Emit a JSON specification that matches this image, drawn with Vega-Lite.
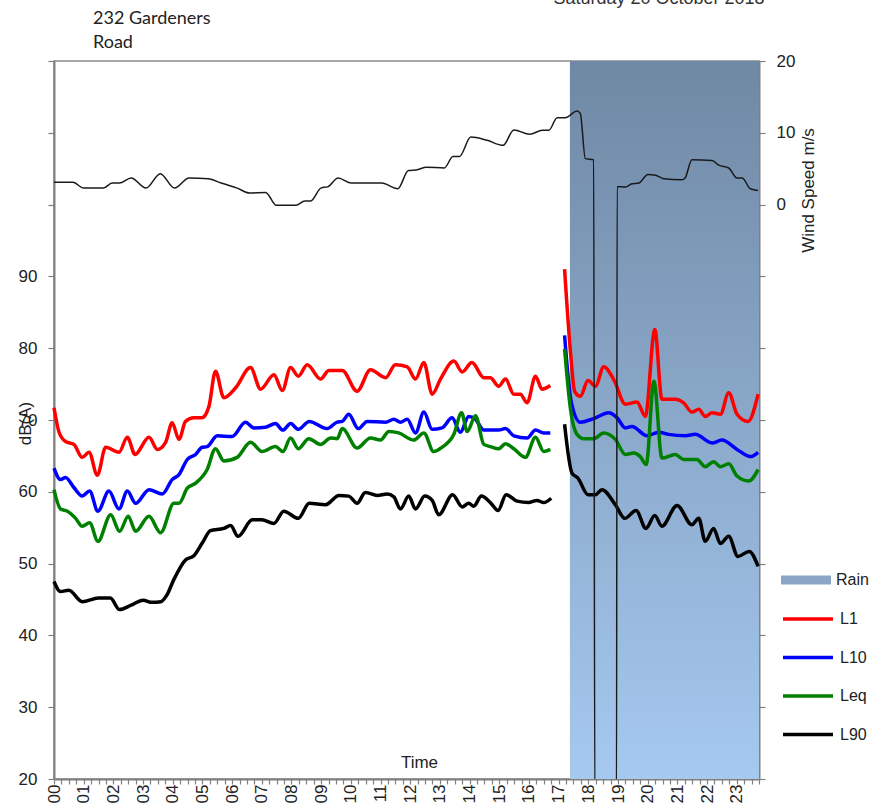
{
  "$schema": "https://vega.github.io/schema/vega-lite/v6.json",
  "width": 705,
  "height": 718,
  "autosize": "none",
  "padding": {"left": 54, "top": 61, "right": 113, "bottom": 30},
  "background": "white",
  "config": {
    "view": {"stroke": "#8a8a8a", "strokeWidth": 1.5},
    "axis": {
      "grid": false,
      "domainColor": "#808080",
      "domainWidth": 2,
      "tickColor": "#808080",
      "tickWidth": 1.2,
      "labelFont": "Liberation Sans",
      "labelFontSize": 17,
      "labelColor": "#222222",
      "titleFont": "Liberation Sans",
      "titleFontSize": 17,
      "titleFontWeight": "normal",
      "titleColor": "#222222",
      "labelOverlap": false,
      "labelFlush": false,
      "labelBound": false
    },
    "legend": {
      "labelFont": "Liberation Sans",
      "labelFontSize": 16,
      "labelColor": "#222222",
      "padding": 0,
      "offset": 0
    }
  },
  "datasets": {
    "rain": [{"t": 17.38, "t2": 23.75}],
    "note": [{"label": "Saturday 20 October 2018"}],
    "place": [{"label": "232 Gardeners\nRoad"}],
    "lev": [
      {"s":"L1","r":1,"t":0,"v":71.7},{"s":"L1","r":1,"t":0.17,"v":68.3},{"s":"L1","r":1,"t":0.39,"v":67.0},{"s":"L1","r":1,"t":0.67,"v":66.6},{"s":"L1","r":1,"t":0.95,"v":64.8},{"s":"L1","r":1,"t":1.18,"v":65.5},{"s":"L1","r":1,"t":1.46,"v":62.3},{"s":"L1","r":1,"t":1.74,"v":66.2},{"s":"L1","r":1,"t":2.19,"v":65.5},{"s":"L1","r":1,"t":2.47,"v":67.6},{"s":"L1","r":1,"t":2.73,"v":65.2},{"s":"L1","r":1,"t":3.2,"v":67.6},{"s":"L1","r":1,"t":3.48,"v":65.9},{"s":"L1","r":1,"t":3.76,"v":66.9},{"s":"L1","r":1,"t":3.98,"v":69.6},{"s":"L1","r":1,"t":4.21,"v":67.3},{"s":"L1","r":1,"t":4.43,"v":69.8},{"s":"L1","r":1,"t":4.71,"v":70.3},{"s":"L1","r":1,"t":4.98,"v":70.3},{"s":"L1","r":1,"t":5.22,"v":71.9},{"s":"L1","r":1,"t":5.44,"v":76.8},{"s":"L1","r":1,"t":5.72,"v":73.1},{"s":"L1","r":1,"t":6.12,"v":74.5},{"s":"L1","r":1,"t":6.62,"v":77.3},{"s":"L1","r":1,"t":6.96,"v":74.3},{"s":"L1","r":1,"t":7.41,"v":76.3},{"s":"L1","r":1,"t":7.69,"v":74.1},{"s":"L1","r":1,"t":7.97,"v":77.3},{"s":"L1","r":1,"t":8.23,"v":76.1},{"s":"L1","r":1,"t":8.53,"v":77.7},{"s":"L1","r":1,"t":8.98,"v":75.7},{"s":"L1","r":1,"t":9.26,"v":76.9},{"s":"L1","r":1,"t":9.71,"v":76.9},{"s":"L1","r":1,"t":10.21,"v":74.0},{"s":"L1","r":1,"t":10.66,"v":77.0},{"s":"L1","r":1,"t":11.17,"v":75.9},{"s":"L1","r":1,"t":11.5,"v":77.7},{"s":"L1","r":1,"t":11.9,"v":77.4},{"s":"L1","r":1,"t":12.18,"v":75.7},{"s":"L1","r":1,"t":12.46,"v":78.0},{"s":"L1","r":1,"t":12.74,"v":73.6},{"s":"L1","r":1,"t":13.02,"v":75.7},{"s":"L1","r":1,"t":13.47,"v":78.2},{"s":"L1","r":1,"t":13.75,"v":76.7},{"s":"L1","r":1,"t":14.08,"v":78.0},{"s":"L1","r":1,"t":14.48,"v":75.9},{"s":"L1","r":1,"t":14.7,"v":75.9},{"s":"L1","r":1,"t":14.98,"v":74.7},{"s":"L1","r":1,"t":15.21,"v":75.7},{"s":"L1","r":1,"t":15.49,"v":73.6},{"s":"L1","r":1,"t":15.71,"v":73.6},{"s":"L1","r":1,"t":15.94,"v":72.4},{"s":"L1","r":1,"t":16.22,"v":76.1},{"s":"L1","r":1,"t":16.44,"v":74.3},{"s":"L1","r":1,"t":16.72,"v":74.8},
      {"s":"L1","r":2,"t":17.2,"v":91.0},{"s":"L1","r":2,"t":17.4,"v":79.4},{"s":"L1","r":2,"t":17.54,"v":74.0},{"s":"L1","r":2,"t":17.73,"v":73.3},{"s":"L1","r":2,"t":17.99,"v":75.5},{"s":"L1","r":2,"t":18.24,"v":74.7},{"s":"L1","r":2,"t":18.52,"v":77.4},{"s":"L1","r":2,"t":18.86,"v":75.6},{"s":"L1","r":2,"t":19.25,"v":72.2},{"s":"L1","r":2,"t":19.64,"v":72.5},{"s":"L1","r":2,"t":19.92,"v":70.5},{"s":"L1","r":2,"t":20.24,"v":82.6},{"s":"L1","r":2,"t":20.48,"v":72.9},{"s":"L1","r":2,"t":20.93,"v":72.9},{"s":"L1","r":2,"t":21.21,"v":72.4},{"s":"L1","r":2,"t":21.49,"v":71.1},{"s":"L1","r":2,"t":21.72,"v":71.5},{"s":"L1","r":2,"t":21.94,"v":70.5},{"s":"L1","r":2,"t":22.17,"v":71.0},{"s":"L1","r":2,"t":22.45,"v":70.8},{"s":"L1","r":2,"t":22.73,"v":73.8},{"s":"L1","r":2,"t":23.01,"v":70.8},{"s":"L1","r":2,"t":23.38,"v":69.8},{"s":"L1","r":2,"t":23.72,"v":73.6},
      {"s":"L10","r":1,"t":0,"v":63.3},{"s":"L10","r":1,"t":0.22,"v":61.7},{"s":"L10","r":1,"t":0.39,"v":62.0},{"s":"L10","r":1,"t":0.67,"v":60.6},{"s":"L10","r":1,"t":0.95,"v":59.4},{"s":"L10","r":1,"t":1.2,"v":60.1},{"s":"L10","r":1,"t":1.48,"v":57.3},{"s":"L10","r":1,"t":1.85,"v":60.1},{"s":"L10","r":1,"t":2.19,"v":57.6},{"s":"L10","r":1,"t":2.47,"v":60.1},{"s":"L10","r":1,"t":2.75,"v":58.4},{"s":"L10","r":1,"t":3.2,"v":60.3},{"s":"L10","r":1,"t":3.65,"v":59.7},{"s":"L10","r":1,"t":3.98,"v":61.7},{"s":"L10","r":1,"t":4.21,"v":62.4},{"s":"L10","r":1,"t":4.49,"v":64.5},{"s":"L10","r":1,"t":4.77,"v":65.2},{"s":"L10","r":1,"t":4.99,"v":66.2},{"s":"L10","r":1,"t":5.16,"v":66.3},{"s":"L10","r":1,"t":5.5,"v":67.8},{"s":"L10","r":1,"t":6.0,"v":67.7},{"s":"L10","r":1,"t":6.45,"v":69.7},{"s":"L10","r":1,"t":6.73,"v":68.9},{"s":"L10","r":1,"t":7.13,"v":69.0},{"s":"L10","r":1,"t":7.46,"v":69.5},{"s":"L10","r":1,"t":7.71,"v":68.6},{"s":"L10","r":1,"t":7.97,"v":69.5},{"s":"L10","r":1,"t":8.23,"v":68.7},{"s":"L10","r":1,"t":8.6,"v":69.8},{"s":"L10","r":1,"t":9.2,"v":68.8},{"s":"L10","r":1,"t":9.54,"v":69.7},{"s":"L10","r":1,"t":9.71,"v":69.8},{"s":"L10","r":1,"t":9.93,"v":70.8},{"s":"L10","r":1,"t":10.25,"v":68.8},{"s":"L10","r":1,"t":10.55,"v":69.8},{"s":"L10","r":1,"t":11.17,"v":69.7},{"s":"L10","r":1,"t":11.45,"v":70.1},{"s":"L10","r":1,"t":11.67,"v":69.7},{"s":"L10","r":1,"t":11.9,"v":70.1},{"s":"L10","r":1,"t":12.18,"v":68.2},{"s":"L10","r":1,"t":12.46,"v":71.1},{"s":"L10","r":1,"t":12.74,"v":68.7},{"s":"L10","r":1,"t":13.07,"v":68.9},{"s":"L10","r":1,"t":13.41,"v":70.3},{"s":"L10","r":1,"t":13.69,"v":68.3},{"s":"L10","r":1,"t":13.97,"v":70.5},{"s":"L10","r":1,"t":14.2,"v":70.1},{"s":"L10","r":1,"t":14.48,"v":68.6},{"s":"L10","r":1,"t":14.98,"v":68.6},{"s":"L10","r":1,"t":15.21,"v":68.8},{"s":"L10","r":1,"t":15.49,"v":67.8},{"s":"L10","r":1,"t":15.94,"v":67.5},{"s":"L10","r":1,"t":16.22,"v":68.6},{"s":"L10","r":1,"t":16.5,"v":68.2},{"s":"L10","r":1,"t":16.72,"v":68.2},
      {"s":"L10","r":2,"t":17.2,"v":81.8},{"s":"L10","r":2,"t":17.43,"v":72.4},{"s":"L10","r":2,"t":17.73,"v":69.7},{"s":"L10","r":2,"t":18.18,"v":70.2},{"s":"L10","r":2,"t":18.69,"v":71.0},{"s":"L10","r":2,"t":18.97,"v":70.3},{"s":"L10","r":2,"t":19.25,"v":68.9},{"s":"L10","r":2,"t":19.47,"v":69.1},{"s":"L10","r":2,"t":19.98,"v":67.8},{"s":"L10","r":2,"t":20.37,"v":68.3},{"s":"L10","r":2,"t":20.7,"v":68.0},{"s":"L10","r":2,"t":21.27,"v":67.8},{"s":"L10","r":2,"t":21.6,"v":68.0},{"s":"L10","r":2,"t":22.17,"v":66.8},{"s":"L10","r":2,"t":22.5,"v":67.2},{"s":"L10","r":2,"t":23.01,"v":65.9},{"s":"L10","r":2,"t":23.46,"v":64.9},{"s":"L10","r":2,"t":23.72,"v":65.5},
      {"s":"Leq","r":1,"t":0,"v":60.3},{"s":"Leq","r":1,"t":0.22,"v":57.6},{"s":"Leq","r":1,"t":0.45,"v":57.3},{"s":"Leq","r":1,"t":0.73,"v":56.3},{"s":"Leq","r":1,"t":0.95,"v":55.2},{"s":"Leq","r":1,"t":1.2,"v":55.7},{"s":"Leq","r":1,"t":1.48,"v":53.1},{"s":"Leq","r":1,"t":1.91,"v":56.8},{"s":"Leq","r":1,"t":2.21,"v":54.5},{"s":"Leq","r":1,"t":2.5,"v":56.6},{"s":"Leq","r":1,"t":2.75,"v":54.5},{"s":"Leq","r":1,"t":3.2,"v":56.6},{"s":"Leq","r":1,"t":3.59,"v":54.3},{"s":"Leq","r":1,"t":4.04,"v":58.4},{"s":"Leq","r":1,"t":4.21,"v":58.4},{"s":"Leq","r":1,"t":4.49,"v":60.5},{"s":"Leq","r":1,"t":4.77,"v":61.2},{"s":"Leq","r":1,"t":5.16,"v":63.1},{"s":"Leq","r":1,"t":5.44,"v":66.0},{"s":"Leq","r":1,"t":5.72,"v":64.3},{"s":"Leq","r":1,"t":6.17,"v":64.8},{"s":"Leq","r":1,"t":6.62,"v":66.9},{"s":"Leq","r":1,"t":7.01,"v":65.6},{"s":"Leq","r":1,"t":7.46,"v":66.3},{"s":"Leq","r":1,"t":7.71,"v":65.6},{"s":"Leq","r":1,"t":7.97,"v":67.5},{"s":"Leq","r":1,"t":8.23,"v":66.0},{"s":"Leq","r":1,"t":8.58,"v":67.4},{"s":"Leq","r":1,"t":8.98,"v":66.6},{"s":"Leq","r":1,"t":9.32,"v":67.5},{"s":"Leq","r":1,"t":9.54,"v":67.4},{"s":"Leq","r":1,"t":9.71,"v":68.8},{"s":"Leq","r":1,"t":10.21,"v":66.1},{"s":"Leq","r":1,"t":10.66,"v":67.5},{"s":"Leq","r":1,"t":11.0,"v":67.2},{"s":"Leq","r":1,"t":11.28,"v":68.4},{"s":"Leq","r":1,"t":11.61,"v":68.2},{"s":"Leq","r":1,"t":12.12,"v":67.2},{"s":"Leq","r":1,"t":12.46,"v":68.2},{"s":"Leq","r":1,"t":12.79,"v":65.6},{"s":"Leq","r":1,"t":13.07,"v":66.2},{"s":"Leq","r":1,"t":13.47,"v":68.0},{"s":"Leq","r":1,"t":13.73,"v":71.0},{"s":"Leq","r":1,"t":13.92,"v":68.4},{"s":"Leq","r":1,"t":14.2,"v":70.6},{"s":"Leq","r":1,"t":14.48,"v":66.6},{"s":"Leq","r":1,"t":14.7,"v":66.3},{"s":"Leq","r":1,"t":14.98,"v":66.0},{"s":"Leq","r":1,"t":15.21,"v":66.7},{"s":"Leq","r":1,"t":15.49,"v":66.0},{"s":"Leq","r":1,"t":15.88,"v":64.8},{"s":"Leq","r":1,"t":16.22,"v":67.6},{"s":"Leq","r":1,"t":16.5,"v":65.6},{"s":"Leq","r":1,"t":16.72,"v":65.9},
      {"s":"Leq","r":2,"t":17.2,"v":79.9},{"s":"Leq","r":2,"t":17.4,"v":71.5},{"s":"Leq","r":2,"t":17.62,"v":68.0},{"s":"Leq","r":2,"t":17.85,"v":67.4},{"s":"Leq","r":2,"t":18.18,"v":67.4},{"s":"Leq","r":2,"t":18.52,"v":68.2},{"s":"Leq","r":2,"t":18.91,"v":67.3},{"s":"Leq","r":2,"t":19.25,"v":65.2},{"s":"Leq","r":2,"t":19.53,"v":65.4},{"s":"Leq","r":2,"t":19.75,"v":64.9},{"s":"Leq","r":2,"t":19.95,"v":63.8},{"s":"Leq","r":2,"t":20.21,"v":75.4},{"s":"Leq","r":2,"t":20.48,"v":64.7},{"s":"Leq","r":2,"t":20.93,"v":65.2},{"s":"Leq","r":2,"t":21.21,"v":64.5},{"s":"Leq","r":2,"t":21.66,"v":64.5},{"s":"Leq","r":2,"t":21.94,"v":63.5},{"s":"Leq","r":2,"t":22.22,"v":64.2},{"s":"Leq","r":2,"t":22.45,"v":63.5},{"s":"Leq","r":2,"t":22.73,"v":63.9},{"s":"Leq","r":2,"t":23.01,"v":62.2},{"s":"Leq","r":2,"t":23.4,"v":61.5},{"s":"Leq","r":2,"t":23.72,"v":63.1},
      {"s":"L90","r":1,"t":0,"v":47.5},{"s":"L90","r":1,"t":0.22,"v":46.1},{"s":"L90","r":1,"t":0.5,"v":46.3},{"s":"L90","r":1,"t":0.95,"v":44.7},{"s":"L90","r":1,"t":1.5,"v":45.2},{"s":"L90","r":1,"t":1.9,"v":45.2},{"s":"L90","r":1,"t":2.2,"v":43.6},{"s":"L90","r":1,"t":2.6,"v":44.2},{"s":"L90","r":1,"t":3.0,"v":44.9},{"s":"L90","r":1,"t":3.3,"v":44.6},{"s":"L90","r":1,"t":3.6,"v":44.7},{"s":"L90","r":1,"t":3.8,"v":45.6},{"s":"L90","r":1,"t":4.04,"v":47.8},{"s":"L90","r":1,"t":4.43,"v":50.5},{"s":"L90","r":1,"t":4.71,"v":51.1},{"s":"L90","r":1,"t":5.0,"v":52.9},{"s":"L90","r":1,"t":5.27,"v":54.6},{"s":"L90","r":1,"t":5.72,"v":54.9},{"s":"L90","r":1,"t":5.95,"v":55.3},{"s":"L90","r":1,"t":6.2,"v":53.8},{"s":"L90","r":1,"t":6.68,"v":56.1},{"s":"L90","r":1,"t":7.0,"v":56.1},{"s":"L90","r":1,"t":7.41,"v":55.6},{"s":"L90","r":1,"t":7.74,"v":57.3},{"s":"L90","r":1,"t":8.23,"v":56.3},{"s":"L90","r":1,"t":8.6,"v":58.4},{"s":"L90","r":1,"t":9.15,"v":58.2},{"s":"L90","r":1,"t":9.6,"v":59.5},{"s":"L90","r":1,"t":9.93,"v":59.4},{"s":"L90","r":1,"t":10.21,"v":58.4},{"s":"L90","r":1,"t":10.49,"v":59.9},{"s":"L90","r":1,"t":10.89,"v":59.5},{"s":"L90","r":1,"t":11.22,"v":59.7},{"s":"L90","r":1,"t":11.45,"v":59.3},{"s":"L90","r":1,"t":11.67,"v":57.6},{"s":"L90","r":1,"t":11.95,"v":59.4},{"s":"L90","r":1,"t":12.18,"v":57.6},{"s":"L90","r":1,"t":12.49,"v":59.4},{"s":"L90","r":1,"t":12.74,"v":58.8},{"s":"L90","r":1,"t":12.96,"v":56.8},{"s":"L90","r":1,"t":13.43,"v":59.6},{"s":"L90","r":1,"t":13.75,"v":57.9},{"s":"L90","r":1,"t":13.97,"v":58.4},{"s":"L90","r":1,"t":14.14,"v":58.0},{"s":"L90","r":1,"t":14.4,"v":59.4},{"s":"L90","r":1,"t":14.7,"v":58.5},{"s":"L90","r":1,"t":14.96,"v":57.4},{"s":"L90","r":1,"t":15.23,"v":59.6},{"s":"L90","r":1,"t":15.6,"v":58.7},{"s":"L90","r":1,"t":15.99,"v":58.5},{"s":"L90","r":1,"t":16.27,"v":58.8},{"s":"L90","r":1,"t":16.5,"v":58.5},{"s":"L90","r":1,"t":16.75,"v":59.1},
      {"s":"L90","r":2,"t":17.2,"v":69.4},{"s":"L90","r":2,"t":17.45,"v":62.6},{"s":"L90","r":2,"t":17.65,"v":61.9},{"s":"L90","r":2,"t":17.99,"v":59.6},{"s":"L90","r":2,"t":18.24,"v":59.6},{"s":"L90","r":2,"t":18.46,"v":60.3},{"s":"L90","r":2,"t":18.91,"v":58.2},{"s":"L90","r":2,"t":19.23,"v":56.3},{"s":"L90","r":2,"t":19.61,"v":57.4},{"s":"L90","r":2,"t":19.94,"v":54.9},{"s":"L90","r":2,"t":20.24,"v":56.7},{"s":"L90","r":2,"t":20.48,"v":55.2},{"s":"L90","r":2,"t":20.99,"v":58.1},{"s":"L90","r":2,"t":21.49,"v":55.4},{"s":"L90","r":2,"t":21.72,"v":56.3},{"s":"L90","r":2,"t":21.94,"v":53.1},{"s":"L90","r":2,"t":22.22,"v":54.9},{"s":"L90","r":2,"t":22.45,"v":52.8},{"s":"L90","r":2,"t":22.73,"v":53.8},{"s":"L90","r":2,"t":23.04,"v":51.0},{"s":"L90","r":2,"t":23.42,"v":51.7},{"s":"L90","r":2,"t":23.72,"v":49.6}
    ],
    "wind": [
      {"t":0,"w":3.1},{"t":0.64,"w":3.1},{"t":1.0,"w":2.3},{"t":1.66,"w":2.3},{"t":1.96,"w":3.0},{"t":2.2,"w":3.0},{"t":2.6,"w":3.7},{"t":3.1,"w":2.3},{"t":3.58,"w":4.3},{"t":4.06,"w":2.3},{"t":4.55,"w":3.7},{"t":5.2,"w":3.6},{"t":5.63,"w":3.0},{"t":6.17,"w":2.3},{"t":6.59,"w":1.6},{"t":7.13,"w":1.7},{"t":7.49,"w":-0.1},{"t":8.15,"w":-0.1},{"t":8.45,"w":0.5},{"t":8.65,"w":0.5},{"t":8.99,"w":2.3},{"t":9.23,"w":2.5},{"t":9.57,"w":3.7},{"t":10.02,"w":3.0},{"t":11.04,"w":3.0},{"t":11.58,"w":2.2},{"t":11.94,"w":4.75},{"t":12.24,"w":4.85},{"t":12.54,"w":5.2},{"t":13.15,"w":5.1},{"t":13.44,"w":6.7},{"t":13.66,"w":6.7},{"t":14.04,"w":9.4},{"t":14.59,"w":8.95},{"t":15.13,"w":8.25},{"t":15.49,"w":10.4},{"t":16.03,"w":9.8},{"t":16.45,"w":10.35},{"t":16.67,"w":10.35},{"t":16.95,"w":12.1},{"t":17.22,"w":12.1},{"t":17.62,"w":13.05},{"t":17.73,"w":12.7},{"t":17.9,"w":6.4},{"t":18.18,"w":6.25},{"t":18.22,"w":-84},{"t":18.95,"w":-84},{"t":18.97,"w":2.5},{"t":19.25,"w":2.45},{"t":19.47,"w":2.9},{"t":19.7,"w":3.0},{"t":20.01,"w":4.2},{"t":20.26,"w":4.1},{"t":20.54,"w":3.6},{"t":21.15,"w":3.45},{"t":21.26,"w":3.7},{"t":21.49,"w":6.25},{"t":22.17,"w":6.15},{"t":22.39,"w":5.5},{"t":22.73,"w":5.1},{"t":23.01,"w":3.7},{"t":23.18,"w":3.7},{"t":23.46,"w":2.2},{"t":23.72,"w":1.95}
    ]
  },
  "layer": [
    {
      "data": {"name": "rain"},
      "mark": {
        "type": "rect",
        "fill": {"gradient": "linear", "x1": 0, "y1": 0, "x2": 0, "y2": 1, "stops": [{"offset": 0, "color": "#6f88a4"}, {"offset": 1, "color": "#a6c9f0"}]}
      },
      "encoding": {
        "x": {
          "field": "t", "type": "quantitative",
          "scale": {"domain": [0, 23.75], "nice": false, "zero": false},
          "axis": {
            "title": "Time",
            "titleX": 365, "titleY": -12, "titleAlign": "center", "titleBaseline": "alphabetic", "titleAnchor": null,
            "values": [0,0.25,0.5,0.75,1,1.25,1.5,1.75,2,2.25,2.5,2.75,3,3.25,3.5,3.75,4,4.25,4.5,4.75,5,5.25,5.5,5.75,6,6.25,6.5,6.75,7,7.25,7.5,7.75,8,8.25,8.5,8.75,9,9.25,9.5,9.75,10,10.25,10.5,10.75,11,11.25,11.5,11.75,12,12.25,12.5,12.75,13,13.25,13.5,13.75,14,14.25,14.5,14.75,15,15.25,15.5,15.75,16,16.25,16.5,16.75,17,17.25,17.5,17.75,18,18.25,18.5,18.75,19,19.25,19.5,19.75,20,20.25,20.5,20.75,21,21.25,21.5,21.75,22,22.25,22.5,22.75,23,23.25,23.5,23.75],
            "labelExpr": "datum.value % 1 == 0 ? (datum.value < 10 ? '0' : '') + datum.value : ''",
            "labelAngle": 270,
            "labelOverlap": false,
            "labelBound": false,
            "tickSize": 5,
            "labelPadding": 0
          }
        },
        "x2": {"field": "t2"}
      }
    },
    {
      "data": {"name": "rain"},
      "mark": {"type": "rect", "opacity": 0},
      "encoding": {
        "x": {
          "field": "t", "type": "quantitative",
          "axis": {
            "title": "Time",
            "titleX": 365, "titleY": -12, "titleAlign": "center", "titleBaseline": "alphabetic", "titleAnchor": null,
            "values": [0,0.25,0.5,0.75,1,1.25,1.5,1.75,2,2.25,2.5,2.75,3,3.25,3.5,3.75,4,4.25,4.5,4.75,5,5.25,5.5,5.75,6,6.25,6.5,6.75,7,7.25,7.5,7.75,8,8.25,8.5,8.75,9,9.25,9.5,9.75,10,10.25,10.5,10.75,11,11.25,11.5,11.75,12,12.25,12.5,12.75,13,13.25,13.5,13.75,14,14.25,14.5,14.75,15,15.25,15.5,15.75,16,16.25,16.5,16.75,17,17.25,17.5,17.75,18,18.25,18.5,18.75,19,19.25,19.5,19.75,20,20.25,20.5,20.75,21,21.25,21.5,21.75,22,22.25,22.5,22.75,23,23.25,23.5,23.75],
            "labelExpr": "datum.value % 1 == 0 ? (datum.value < 10 ? '0' : '') + datum.value : ''",
            "labelAngle": 270,
            "labelOverlap": false,
            "labelBound": false,
            "tickSize": 5,
            "labelPadding": 0
          }
        },
        "x2": {"field": "t2"},
        "fill": {
          "datum": "Rain",
          "scale": {"domain": ["Rain"], "range": ["#8aa5c6"]},
          "legend": {
            "title": null,
            "orient": "none",
            "legendX": 727,
            "legendY": 509,
            "symbolType": "M-1,-0.18H1V0.18H-1Z",
            "symbolSize": 2500,
            "clipHeight": 20,
            "labelOffset": 5,
            "encode": {
              "symbols": {
                "update": {
                  "fill": {"value": {"gradient": "linear", "x1": 0, "y1": 0, "x2": 0, "y2": 1, "stops": [{"offset": 0, "color": "#7f98b8"}, {"offset": 1, "color": "#a8c6e8"}]}},
                  "opacity": {"value": 1},
                  "strokeWidth": {"value": 0}
                }
              }
            }
          }
        }
      }
    },
    {
      "layer": [
        {
          "data": {"name": "lev"},
          "mark": {"type": "line", "interpolate": "monotone", "strokeWidth": 3.5},
          "encoding": {
            "x": {
              "field": "t", "type": "quantitative",
              "axis": {
                "title": "Time",
                "titleX": 365, "titleY": -12, "titleAlign": "center", "titleBaseline": "alphabetic", "titleAnchor": null,
                "values": [0,0.25,0.5,0.75,1,1.25,1.5,1.75,2,2.25,2.5,2.75,3,3.25,3.5,3.75,4,4.25,4.5,4.75,5,5.25,5.5,5.75,6,6.25,6.5,6.75,7,7.25,7.5,7.75,8,8.25,8.5,8.75,9,9.25,9.5,9.75,10,10.25,10.5,10.75,11,11.25,11.5,11.75,12,12.25,12.5,12.75,13,13.25,13.5,13.75,14,14.25,14.5,14.75,15,15.25,15.5,15.75,16,16.25,16.5,16.75,17,17.25,17.5,17.75,18,18.25,18.5,18.75,19,19.25,19.5,19.75,20,20.25,20.5,20.75,21,21.25,21.5,21.75,22,22.25,22.5,22.75,23,23.25,23.5,23.75],
                "labelExpr": "datum.value % 1 == 0 ? (datum.value < 10 ? '0' : '') + datum.value : ''",
                "labelAngle": 270,
                "labelOverlap": false,
                "labelBound": false,
                "tickSize": 5,
                "labelPadding": 0
              }
            },
            "y": {
              "field": "v", "type": "quantitative",
              "scale": {"domain": [20, 120], "nice": false, "zero": false},
              "axis": {
                "orient": "left",
                "title": "dB(A)",
                "titleAngle": 270,
                "titleX": -29, "titleY": 362,
                "titleAlign": "center", "titleBaseline": "middle", "titleAnchor": null,
                "values": [20,25,30,35,40,45,50,55,60,65,70,75,80,85,90,95,100,105,110,115,120],
                "labelExpr": "datum.value <= 90 && datum.value % 10 == 0 ? datum.value : ''",
                "tickSize": 6,
                "labelPadding": 11
              }
            },
            "stroke": {
              "field": "s", "type": "nominal",
              "scale": {"domain": ["L1", "L10", "Leq", "L90"], "range": ["#ff0000", "#0000ff", "#008000", "#000000"]},
              "legend": {
                "title": null,
                "orient": "none",
                "legendX": 727,
                "legendY": 548,
                "symbolType": "stroke",
                "symbolSize": 2500,
                "symbolStrokeWidth": 3.5,
                "clipHeight": 20,
                "rowPadding": 18.5,
                "labelOffset": 5
              }
            },
            "detail": {"field": "r", "type": "nominal"}
          }
        },
        {
          "data": {"name": "note"},
          "mark": {"type": "text", "font": "Liberation Sans", "fontSize": 18, "fill": "#333333", "align": "center", "baseline": "alphabetic"},
          "encoding": {
            "text": {"field": "label", "type": "nominal"},
            "x": {
              "datum": 20.38, "type": "quantitative",
              "axis": {
                "title": "Time",
                "titleX": 365, "titleY": -12, "titleAlign": "center", "titleBaseline": "alphabetic", "titleAnchor": null,
                "values": [0,0.25,0.5,0.75,1,1.25,1.5,1.75,2,2.25,2.5,2.75,3,3.25,3.5,3.75,4,4.25,4.5,4.75,5,5.25,5.5,5.75,6,6.25,6.5,6.75,7,7.25,7.5,7.75,8,8.25,8.5,8.75,9,9.25,9.5,9.75,10,10.25,10.5,10.75,11,11.25,11.5,11.75,12,12.25,12.5,12.75,13,13.25,13.5,13.75,14,14.25,14.5,14.75,15,15.25,15.5,15.75,16,16.25,16.5,16.75,17,17.25,17.5,17.75,18,18.25,18.5,18.75,19,19.25,19.5,19.75,20,20.25,20.5,20.75,21,21.25,21.5,21.75,22,22.25,22.5,22.75,23,23.25,23.5,23.75],
                "labelExpr": "datum.value % 1 == 0 ? (datum.value < 10 ? '0' : '') + datum.value : ''",
                "labelAngle": 270,
                "labelOverlap": false,
                "labelBound": false,
                "tickSize": 5,
                "labelPadding": 0
              }
            },
            "y": {"datum": 127.95, "type": "quantitative"}
          }
        },
        {
          "data": {"name": "place"},
          "mark": {"type": "text", "font": "Lato", "fontSize": 18, "fill": "#222222", "align": "left", "baseline": "alphabetic", "lineBreak": "\n", "lineHeight": 24},
          "encoding": {
            "text": {"field": "label", "type": "nominal"},
            "x": {
              "datum": 1.314, "type": "quantitative",
              "axis": {
                "title": "Time",
                "titleX": 365, "titleY": -12, "titleAlign": "center", "titleBaseline": "alphabetic", "titleAnchor": null,
                "values": [0,0.25,0.5,0.75,1,1.25,1.5,1.75,2,2.25,2.5,2.75,3,3.25,3.5,3.75,4,4.25,4.5,4.75,5,5.25,5.5,5.75,6,6.25,6.5,6.75,7,7.25,7.5,7.75,8,8.25,8.5,8.75,9,9.25,9.5,9.75,10,10.25,10.5,10.75,11,11.25,11.5,11.75,12,12.25,12.5,12.75,13,13.25,13.5,13.75,14,14.25,14.5,14.75,15,15.25,15.5,15.75,16,16.25,16.5,16.75,17,17.25,17.5,17.75,18,18.25,18.5,18.75,19,19.25,19.5,19.75,20,20.25,20.5,20.75,21,21.25,21.5,21.75,22,22.25,22.5,22.75,23,23.25,23.5,23.75],
                "labelExpr": "datum.value % 1 == 0 ? (datum.value < 10 ? '0' : '') + datum.value : ''",
                "labelAngle": 270,
                "labelOverlap": false,
                "labelBound": false,
                "tickSize": 5,
                "labelPadding": 0
              }
            },
            "y": {"datum": 125.15, "type": "quantitative"}
          }
        }
      ]
    },
    {
      "layer": [
        {
          "data": {"name": "wind"},
          "mark": {"type": "line", "interpolate": "monotone", "strokeWidth": 1.5, "color": "#1a1a1a", "clip": true},
          "encoding": {
            "x": {
              "field": "t", "type": "quantitative",
              "axis": {
                "title": "Time",
                "titleX": 365, "titleY": -12, "titleAlign": "center", "titleBaseline": "alphabetic", "titleAnchor": null,
                "values": [0,0.25,0.5,0.75,1,1.25,1.5,1.75,2,2.25,2.5,2.75,3,3.25,3.5,3.75,4,4.25,4.5,4.75,5,5.25,5.5,5.75,6,6.25,6.5,6.75,7,7.25,7.5,7.75,8,8.25,8.5,8.75,9,9.25,9.5,9.75,10,10.25,10.5,10.75,11,11.25,11.5,11.75,12,12.25,12.5,12.75,13,13.25,13.5,13.75,14,14.25,14.5,14.75,15,15.25,15.5,15.75,16,16.25,16.5,16.75,17,17.25,17.5,17.75,18,18.25,18.5,18.75,19,19.25,19.5,19.75,20,20.25,20.5,20.75,21,21.25,21.5,21.75,22,22.25,22.5,22.75,23,23.25,23.5,23.75],
                "labelExpr": "datum.value % 1 == 0 ? (datum.value < 10 ? '0' : '') + datum.value : ''",
                "labelAngle": 270,
                "labelOverlap": false,
                "labelBound": false,
                "tickSize": 5,
                "labelPadding": 0
              }
            },
            "y": {
              "field": "w", "type": "quantitative",
              "scale": {"domain": [-80, 20], "nice": false, "zero": false},
              "axis": {
                "orient": "right",
                "title": "Wind Speed m/s",
                "titleAngle": 270,
                "titleX": 49, "titleY": 129,
                "titleAlign": "center", "titleBaseline": "middle", "titleAnchor": null,
                "values": [-80,-75,-70,-65,-60,-55,-50,-45,-40,-35,-30,-25,-20,-15,-10,-5,0,5,10,15,20],
                "labelExpr": "datum.value >= 0 ? datum.value : ''",
                "tickSize": 6,
                "labelPadding": 11
              }
            }
          }
        },
        {
          "mark": {"type": "rule", "strokeDash": [10, 6], "strokeWidth": 1.5, "color": "#444444"},
          "encoding": {
            "y": {"datum": 5, "type": "quantitative"}
          }
        }
      ]
    }
  ],
  "resolve": {"scale": {"y": "independent"}}
}
